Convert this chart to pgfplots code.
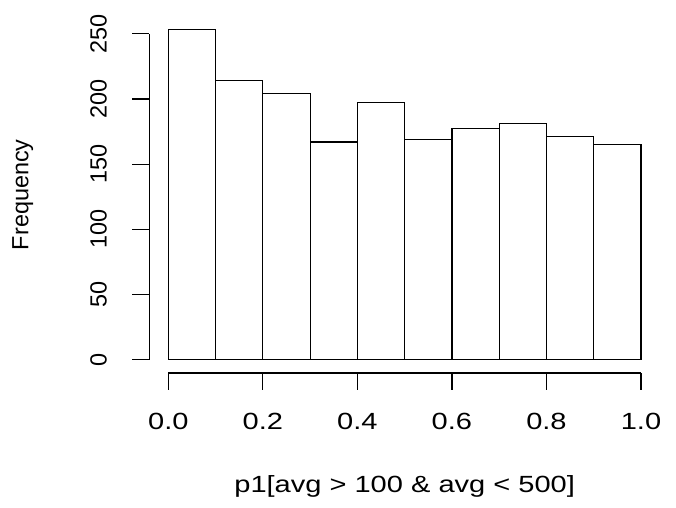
\documentclass[border=0pt]{standalone}
\usepackage{fontspec}
\setmainfont{Liberation Sans}[FakeStretch=1.24]
\newfontfamily\rotfont{Liberation Sans}
\usepackage{pgfplots}
\pgfplotsset{compat=1.18}
\begin{document}
\begin{tikzpicture}
\path[use as bounding box] (0,0) rectangle (676bp,508bp);
\begin{axis}[
  at={(149.4bp,135.1bp)}, anchor=south west,
  scale only axis, width=510.5bp, height=356.3bp,
  xmin=-0.04, xmax=1.04, ymin=-10.12, ymax=263.12,
  clip=false,
  axis x line*=bottom, axis y line*=left,
  axis line style={draw=none},
  tick align=outside, major tick length=17bp,
  tick style={black, line width=1.2bp},
  xtick={0,0.2,0.4,0.6,0.8,1.0},
  xticklabels={0.0,0.2,0.4,0.6,0.8,1.0},
  ytick={0,50,100,150,200,250},
  yticklabels={0,50,100,150,200,250},
  xticklabel style={font=\fontsize{23.5}{28}\selectfont, anchor=base, yshift=-40bp},
  yticklabel style={font=\rotfont\fontsize{23.5}{28}\selectfont, rotate=90, anchor=base, yshift=25.7bp},
  xlabel={p1[avg > 100 \& avg < 500]},
  ylabel={Frequency},
  xlabel style={font=\fontsize{23.5}{28}\selectfont, at={(axis description cs:0.5,-0.337)}, anchor=base},
  ylabel style={font=\rotfont\fontsize{23.5}{28}\selectfont, at={(axis description cs:-0.237,0.5)}, anchor=base},
]
\addplot[ybar interval, fill=white, draw=black, line width=1.2bp] coordinates {
  (0,253) (0.1,214) (0.2,204) (0.3,167) (0.4,197) (0.5,169) (0.6,177) (0.7,181) (0.8,171) (0.9,165) (1.0,165)
};
\draw[black, line width=1.2bp] (axis cs:0,-10.12) -- (axis cs:1,-10.12);
\draw[black, line width=1.2bp] (axis cs:-0.04,0) -- (axis cs:-0.04,250);
\end{axis}
\end{tikzpicture}
\end{document}
